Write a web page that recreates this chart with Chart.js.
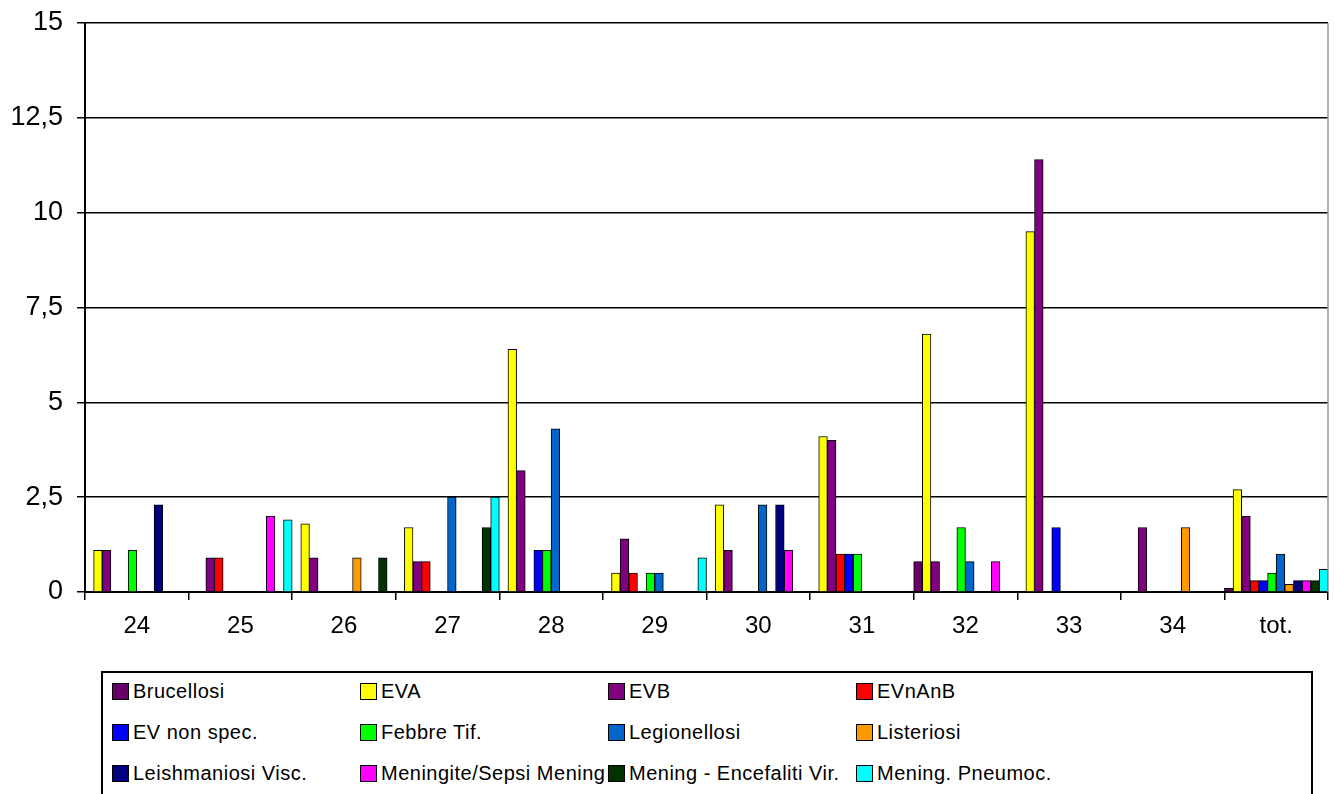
<!DOCTYPE html>
<html>
<head>
<meta charset="utf-8">
<script src="https://cdn.jsdelivr.net/npm/chart.js@4"></script>
<style>
  body { margin: 0; background: #fff; overflow: hidden; }
  #wrap { position: relative; width: 1334px; height: 794px; }
  #legend {
    position: absolute; left: 101px; top: 671px; width: 1212px; height: 126px;
    border: 2px solid #000; box-sizing: border-box;
    font-family: "Liberation Sans", Arial, sans-serif; font-size: 20px; letter-spacing: 0.5px; color: #000;
  }
  .item { position: absolute; display: flex; align-items: center; white-space: nowrap; }
  .sw { width: 15px; height: 15px; border: 1px solid #000; margin-right: 4px; flex: none; }
</style>
</head>
<body>
<div id="wrap">
  <canvas id="chart" width="1334" height="660"></canvas>
  <div id="legend"></div>
</div>
<script>
const categories = ['24', '25', '26', '27', '28', '29', '30', '31', '32', '33', '34', 'tot.'];

const brucellosi   = [null, null, null, null, null, null, null, null, 0.8, null, null, 0.1];
const eva          = [1.1, null, 1.8, 1.7, 6.4, 0.5, 2.3, 4.1, 6.8, 9.5, null, 2.7];
const evb          = [1.1, 0.9, 0.9, 0.8, 3.2, 1.4, 1.1, 4.0, 0.8, 11.4, 1.7, 2.0];
const evnanb       = [null, 0.9, null, 0.8, null, 0.5, null, 1.0, null, null, null, 0.3];
const evNonSpec    = [null, null, null, null, 1.1, null, null, 1.0, null, 1.7, null, 0.3];
const febbreTif    = [1.1, null, null, null, 1.1, 0.5, null, 1.0, 1.7, null, null, 0.5];
const legionellosi = [null, null, null, 2.5, 4.3, 0.5, 2.3, null, 0.8, null, null, 1.0];
const listeriosi   = [null, null, 0.9, null, null, null, null, null, null, null, 1.7, 0.2];
const leishmaniosi = [2.3, null, null, null, null, null, 2.3, null, null, null, null, 0.3];
const meningite    = [null, 2.0, null, null, null, null, 1.1, null, 0.8, null, null, 0.3];
const meningEncef  = [null, null, 0.9, 1.7, null, null, null, null, null, null, null, 0.3];
const meningPneum  = [null, 1.9, null, 2.5, null, 0.9, null, null, null, null, null, 0.6];

const seriesNames = ['Brucellosi', 'EVA', 'EVB', 'EVnAnB', 'EV non spec.', 'Febbre Tif.', 'Legionellosi',
  'Listeriosi', 'Leishmaniosi Visc.', 'Meningite/Sepsi Mening', 'Mening - Encefaliti Vir.', 'Mening. Pneumoc.'];
const seriesData = [brucellosi, eva, evb, evnanb, evNonSpec, febbreTif, legionellosi,
  listeriosi, leishmaniosi, meningite, meningEncef, meningPneum];
const colors = ['#660066', '#FFFF00', '#800080', '#FF0000', '#0000FF', '#00FF00', '#0066CC',
  '#FF9900', '#000080', '#FF00FF', '#003300', '#00FFFF'];

const yTicks = [0, 2.5, 5, 7.5, 10, 12.5, 15];

const font = "'Liberation Sans', Arial, sans-serif";

// grey right border of the plot area
const plotBorder = {
  id: 'plotBorder',
  afterDraw(chart) {
    const a = chart.chartArea, c = chart.ctx;
    c.save();
    c.strokeStyle = '#999';
    c.lineWidth = 1.5;
    c.beginPath();
    c.moveTo(a.right, a.top);
    c.lineTo(a.right, a.bottom);
    c.stroke();
    c.restore();
  }
};

new Chart(document.getElementById('chart').getContext('2d'), {
  type: 'bar',
  data: {
    labels: categories,
    datasets: seriesData.map((d, i) => ({
      label: seriesNames[i],
      data: d,
      backgroundColor: colors[i],
      borderColor: '#000',
      borderWidth: 1,
      categoryPercentage: 1.0,
      barPercentage: 1.0
    }))
  },
  options: {
    responsive: false,
    animation: false,
    layout: { padding: { top: 23, right: 6, left: 0, bottom: 0 } },
    plugins: { legend: { display: false }, tooltip: { enabled: false } },
    scales: {
      x: {
        afterFit: s => { s.height = 68; },
        grid: { drawOnChartArea: false, offset: true, color: '#000', lineWidth: 1.5, tickLength: 8 },
        border: { color: '#000', width: 2 },
        ticks: { color: '#000', font: { family: font, size: 24 }, padding: 12 }
      },
      y: {
        min: 0, max: 15,
        afterFit: s => { s.width = 85; s.paddingTop = 0; s.paddingBottom = 0; },
        afterBuildTicks: s => { s.ticks = yTicks.map(v => ({ value: v })); },
        grid: { color: '#000', lineWidth: 1.5, tickLength: 8 },
        border: { color: '#000', width: 2 },
        ticks: {
          color: '#000', font: { family: font, size: 27 }, padding: 14,
          callback: v => String(v).replace('.', ',')
        }
      }
    }
  },
  plugins: [plotBorder]
});

// legend: 4 columns x 3 rows
const legend = document.getElementById('legend');
seriesNames.forEach((name, i) => {
  const el = document.createElement('div');
  el.className = 'item';
  el.style.left = (9 + (i % 4) * 248) + 'px';
  el.style.top = (7 + Math.floor(i / 4) * 41) + 'px';
  el.innerHTML = '<span class="sw" style="background:' + colors[i] + '"></span><span>' + name + '</span>';
  legend.appendChild(el);
});
</script>
</body>
</html>
